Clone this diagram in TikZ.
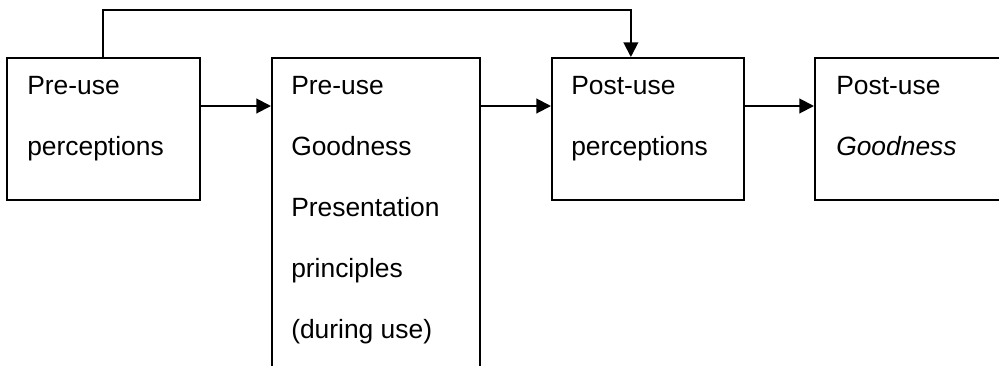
\documentclass[tikz,border=0pt]{standalone}
\usepackage{fontspec}
\setmainfont{Liberation Sans}
\usepackage{tikz}
\usetikzlibrary{arrows.meta,positioning}
\tikzset{box/.style={rectangle,draw,line width=1.3pt,anchor=north west,inner sep=0pt},
  txt/.style={anchor=base west,align=left,inner sep=0pt,font=\fontsize{19.8pt}{45.75pt}\selectfont},
  arr/.style={line width=1.5pt,-{Triangle[length=11pt,width=11pt]}}}

\begin{document}
\begin{tikzpicture}[x=0.75pt,y=-0.75pt]
        \clip (0,0) rectangle (999,365);
        \node[box,minimum width=144.75pt,minimum height=106.5pt] (b1) at (6,57) {};
        \node[box,minimum width=156pt,minimum height=247.5pt] (b2) at (271,57) {};
        \node[box,minimum width=144pt,minimum height=106.5pt] (b3) at (551,57) {};
        \node[box,minimum width=144.75pt,minimum height=106.5pt] (b4) at (814,57) {};

        % text: anchored at the baseline of the last line
        \node[txt] (t1) at (27,155) {Pre-use\\perceptions};
        \node[txt] (t2) at (291,338) {Pre-use\\Goodness\\Presentation\\principles\\(during use)};
        \node[txt] (t3) at (571,155) {Post-use\\perceptions};
        \node[txt] (t4) at (836,155) {Post-use\\\textit{Goodness}};

        \draw [arr] ([yshift=-36.75pt]b1.north east) to [] ([yshift=-36.75pt]b2.north west);
        \draw [arr] ([yshift=-36.75pt]b2.north east) to [] ([yshift=-36.75pt]b3.north west);
        \draw [arr] ([yshift=-36.75pt]b3.north east) to [] ([yshift=-36.75pt]b4.north west);
        \draw [arr] (b1.north) -- ++(0,-47) -| ([xshift=-12.75pt]b3.north);
    \end{tikzpicture}
\end{document}
